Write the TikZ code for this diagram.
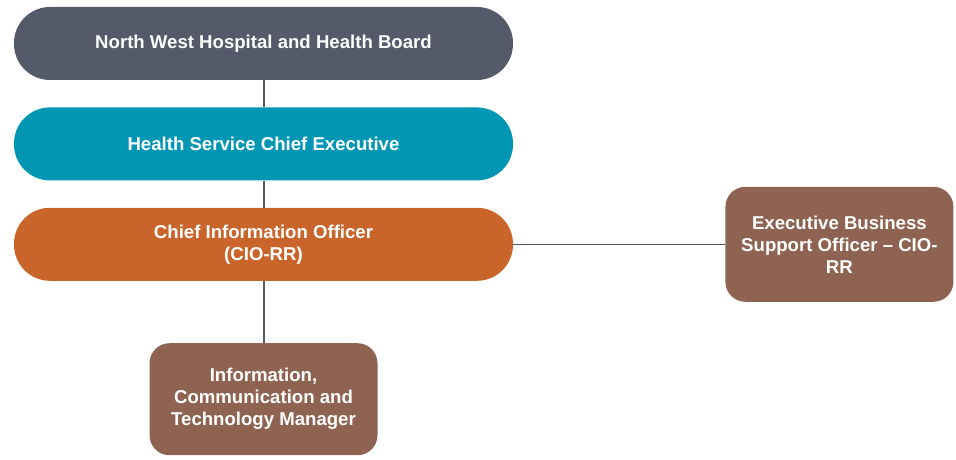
\documentclass[tikz,border=0pt]{standalone}
\usepackage{fontspec}
\setmainfont{Liberation Sans}
\usepackage{tikz}
\usetikzlibrary{positioning}

\definecolor{slate}{HTML}{555A6B}
\definecolor{teal}{HTML}{0196B4}
\definecolor{rust}{HTML}{C9652A}
\definecolor{bark}{HTML}{8E6352}

\begin{document}
\begin{tikzpicture}[x=1pt, y=1pt,
    pill/.style={rounded corners=36pt, minimum width=499pt, minimum height=73pt,
      text=white, font=\fontsize{18.6}{22}\selectfont\bfseries, align=center},
    card/.style={rounded corners=20pt, minimum width=228pt, minimum height=114pt,
      text=white, font=\fontsize{18.6}{22}\selectfont\bfseries, align=center},
    link/.style={draw=slate, line width=2pt}]
  \useasboundingbox (0,0) rectangle (956,-460);

  %% chain of command
  \node[pill, fill=slate] (board) at (263.5,-43.5) {North West Hospital and Health Board};
  \node[pill, fill=teal, below=27pt of board] (hse) {Health Service Chief Executive};
  \node[pill, fill=rust, below=27pt of hse] (cio) {Chief Information Officer\\(CIO-RR)};

  %% reports
  \node[card, fill=bark, minimum height=112pt, below=62pt of cio] (ict)
    {Information,\\Communication and\\Technology Manager};
  \node[card, fill=bark, minimum height=115pt, right=212pt of cio] (ebso)
    {Executive Business\\Support Officer -- CIO-\\RR};

  \path[link]
    (board) -- (hse)
    (hse) -- (cio)
    (cio) -- (ict);
  \draw[draw=slate, line width=0.8pt] (cio) -- (ebso);
\end{tikzpicture}
\end{document}
